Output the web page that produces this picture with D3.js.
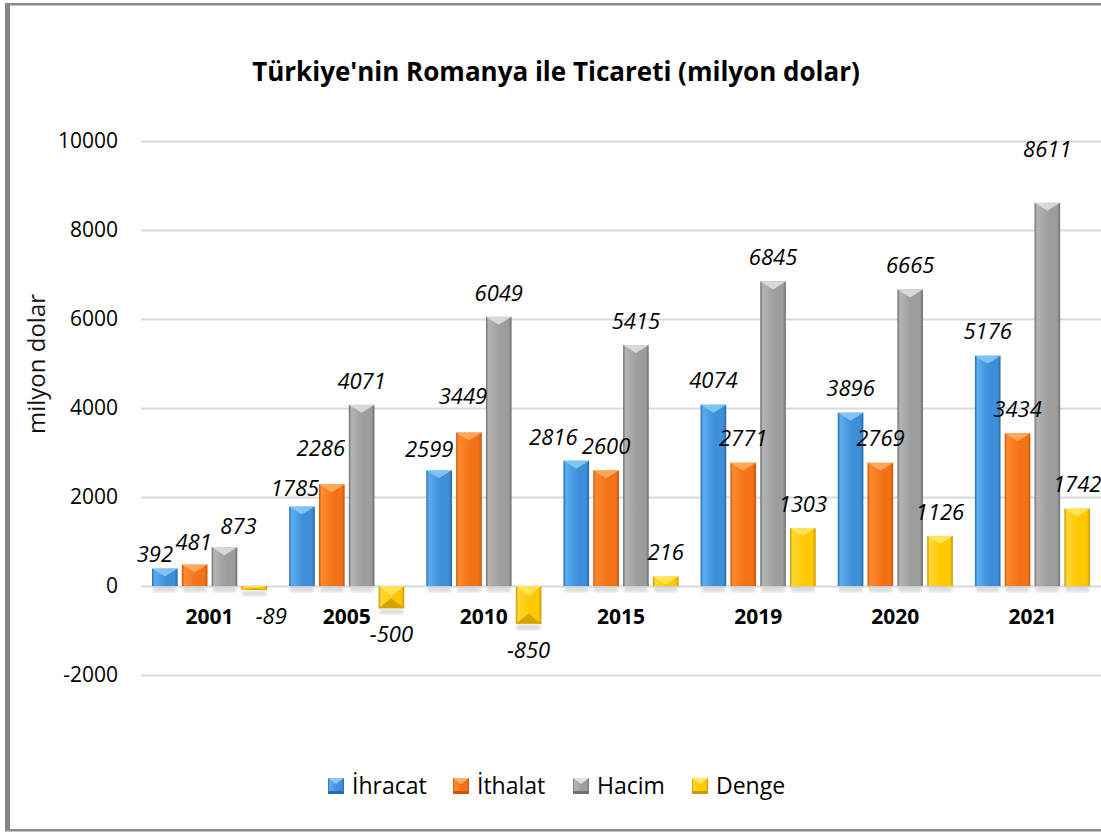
<!DOCTYPE html>
<html>
<head>
<meta charset="utf-8">
<script src="https://cdn.jsdelivr.net/npm/d3@7"></script>
<style>
  body { margin: 0; background: #fff; }
  svg { display: block; font-family: "Open Sans", sans-serif; }
</style>
</head>
<body>
<svg id="chart" width="1101" height="832"></svg>
<script>
// chart data (milyon dolar)
var years = ['2001', '2005', '2010', '2015', '2019', '2020', '2021'];
var ihracat = [392, 1785, 2599, 2816, 4074, 3896, 5176];
var ithalat = [481, 2286, 3449, 2600, 2771, 2769, 3434];
var hacim = [873, 4071, 6049, 5415, 6845, 6665, 8611];
var denge = [-89, -500, -850, 216, 1303, 1126, 1742];
var seriesNames = ['İhracat', 'İthalat', 'Hacim', 'Denge'];
var yTicks = [-2000, 0, 2000, 4000, 6000, 8000, 10000];

// hand-moved data labels, like in the original sheet
var labelNudge = {
  'İhracat|2001': [-10, 10], 'İthalat|2001': [-1, 2], 'Hacim|2001': [14, 3],
  'Denge|2001': [17, 0], 'İhracat|2005': [-7, 6], 'İthalat|2005': [-11, -12],
  'İhracat|2010': [-10, 3], 'İthalat|2010': [-6, -12], 'İhracat|2015': [-23, 1],
  'Hacim|2021': [0, -30]
};

var colors = {
  'İhracat': { light: '#5aaef0', base: '#3d8fd9', dark: '#2a68a8', top: '#8ccaf5' },
  'İthalat': { light: '#ff8a2e', base: '#f47216', dark: '#c5570b', top: '#ffb066' },
  'Hacim':   { light: '#b4b4b4', base: '#9d9d9d', dark: '#6f6f6f', top: '#e2e2e2' },
  'Denge':   { light: '#ffd633', base: '#ffc800', dark: '#c99a00', top: '#ffe866' }
};

var values = { 'İhracat': ihracat, 'İthalat': ithalat, 'Hacim': hacim, 'Denge': denge };

var rows = years.map(function(yr, i) {
  return {
    year: yr,
    bars: seriesNames.map(function(s) { return { key: s, year: yr, value: values[s][i] }; })
  };
});

var svg = d3.select('#chart');
var defs = svg.append('defs');

seriesNames.forEach(function(s, i) {
  var c = colors[s];
  var g = defs.append('linearGradient').attr('id', 'grad' + i)
    .attr('x1', '0%').attr('x2', '100%').attr('y1', '0%').attr('y2', '0%');
  g.append('stop').attr('offset', '0%').attr('stop-color', c.dark);
  g.append('stop').attr('offset', '10%').attr('stop-color', c.light);
  g.append('stop').attr('offset', '55%').attr('stop-color', c.base);
  g.append('stop').attr('offset', '88%').attr('stop-color', c.base);
  g.append('stop').attr('offset', '100%').attr('stop-color', c.dark);
});

defs.append('filter').attr('id', 'blur')
  .append('feGaussianBlur').attr('stdDeviation', 1.6);

// frame
svg.append('rect').attr('x', 5).attr('y', 3).attr('width', 5).attr('height', 828).attr('fill', '#858585');
svg.append('rect').attr('x', 5).attr('y', 3).attr('width', 1096).attr('height', 2.5).attr('fill', '#8a8a8a');
svg.append('rect').attr('x', 5).attr('y', 829).attr('width', 1096).attr('height', 2.5).attr('fill', '#8a8a8a');

var plot = { left: 141, right: 1101, top: 141, bottom: 675 };

var x0 = d3.scaleBand().domain(years).range([plot.left, plot.right]);
var x1 = d3.scaleBand().domain(seriesNames).range([0, x0.bandwidth()])
  .paddingInner(0.14).paddingOuter(0.37);
var y = d3.scaleLinear().domain([-2000, 10000]).range([plot.bottom, plot.top]);

// gridlines
var grid = svg.append('g').attr('transform', 'translate(' + plot.left + ',0)')
  .call(d3.axisLeft(y).tickValues(yTicks).tickSize(-(plot.right - plot.left)).tickFormat(''));
grid.select('.domain').remove();
grid.selectAll('line').attr('stroke', '#d9d9d9').attr('stroke-width', 2);

// y tick labels
var yAxis = svg.append('g').attr('transform', 'translate(' + plot.left + ',0)')
  .call(d3.axisLeft(y).tickValues(yTicks).tickSize(0).tickPadding(23)
    .tickFormat(function(d) { return String(d); }));
yAxis.select('.domain').remove();
yAxis.selectAll('text').attr('font-size', 21).attr('fill', '#000')
  .attr('font-family', '"Open Sans", sans-serif');

// title
svg.append('text').attr('x', 556).attr('y', 72).attr('dy', '0.35em')
  .attr('text-anchor', 'middle').attr('font-size', 26).attr('font-weight', 'bold')
  .attr('fill', '#000').text("Türkiye'nin Romanya ile Ticareti (milyon dolar)");

// y axis title
svg.append('text').attr('transform', 'translate(45,364) rotate(-90)')
  .attr('text-anchor', 'middle').attr('font-size', 24).attr('fill', '#111')
  .text('milyon dolar');

// bars
var groups = svg.append('g').selectAll('g.year').data(rows).enter().append('g')
  .attr('class', 'year')
  .attr('transform', function(d) { return 'translate(' + x0(d.year) + ',0)'; });

var bw = x1.bandwidth();

var bar = groups.selectAll('g.bar').data(function(d) { return d.bars; }).enter().append('g')
  .attr('class', 'bar')
  .attr('transform', function(d) { return 'translate(' + x1(d.key) + ',0)'; });

// shadow at the base line
bar.append('rect')
  .attr('x', 1).attr('width', bw - 2)
  .attr('y', function(d) { return d.value >= 0 ? y(0) + 1 : y(d.value) + 1; })
  .attr('height', 5)
  .attr('fill', '#000').attr('opacity', 0.14).attr('filter', 'url(#blur)');

bar.append('rect')
  .attr('y', function(d) { return Math.min(y(d.value), y(0)); })
  .attr('width', bw)
  .attr('height', function(d) { return Math.abs(y(d.value) - y(0)); })
  .attr('fill', function(d) { return 'url(#grad' + seriesNames.indexOf(d.key) + ')'; });

// bevel on the bar end
bar.append('path')
  .attr('d', function(d) {
    var h = Math.abs(y(d.value) - y(0));
    var b = Math.min(8, h);
    if (d.value >= 0) {
      var t = y(d.value);
      return 'M0,' + t + 'L' + bw + ',' + t + 'L' + (bw / 2) + ',' + (t + b) + 'Z';
    }
    var t0 = y(0);
    return 'M0,' + t0 + 'L' + bw + ',' + t0 + 'L' + (bw / 2) + ',' + (t0 + Math.min(h / 2, 10)) + 'Z';
  })
  .attr('fill', function(d) { return colors[d.key].top; })
  .attr('opacity', 0.85);

bar.filter(function(d) { return d.value < 0; }).append('path')
  .attr('d', function(d) {
    var b = y(d.value);
    var h = Math.abs(y(d.value) - y(0));
    return 'M0,' + b + 'L' + bw + ',' + b + 'L' + (bw / 2) + ',' + (b - Math.min(h / 2, 10)) + 'Z';
  })
  .attr('fill', function(d) { return colors[d.key].dark; })
  .attr('opacity', 0.8);

// data labels, in their own layer so bars never cover them
var allBars = [];
rows.forEach(function(r) { r.bars.forEach(function(b) { allBars.push(b); }); });

svg.append('g').selectAll('text').data(allBars).enter().append('text')
  .attr('x', function(d) {
    var n = labelNudge[d.key + '|' + d.year];
    return x0(d.year) + x1(d.key) + bw / 2 + (n ? n[0] : 0);
  })
  .attr('y', function(d) {
    var n = labelNudge[d.key + '|' + d.year];
    var base = d.value >= 0 ? y(d.value) - 24 : y(d.value) + 26;
    return base + (n ? n[1] : 0);
  })
  .attr('dy', '0.35em')
  .attr('text-anchor', 'middle').attr('font-size', 22).attr('font-style', 'italic')
  .attr('fill', '#000')
  .text(function(d) { return d.value; });

// category labels under the zero line
var xAxis = svg.append('g').attr('transform', 'translate(0,' + y(0) + ')')
  .call(d3.axisBottom(x0).tickSize(0));
xAxis.select('.domain').remove();
xAxis.selectAll('text').attr('y', 31).attr('dy', '0.35em')
  .attr('font-size', 21).attr('font-weight', 'bold').attr('fill', '#000')
  .attr('font-family', '"Open Sans", sans-serif');

// legend
var legendX = [328, 453, 573, 692];
var legend = svg.append('g').selectAll('g').data(seriesNames).enter().append('g')
  .attr('transform', function(d, i) { return 'translate(' + legendX[i] + ',778)'; });
legend.append('rect').attr('width', 16).attr('height', 16)
  .attr('fill', function(d, i) { return 'url(#grad' + i + ')'; });
legend.append('path').attr('d', 'M0,0L16,0L8,6Z')
  .attr('fill', function(d) { return colors[d].top; });
legend.append('rect').attr('y', 13).attr('width', 16).attr('height', 3)
  .attr('fill', function(d) { return colors[d].dark; });
legend.append('text').attr('x', 24).attr('y', 8).attr('dy', '0.35em')
  .attr('font-size', 23).attr('fill', '#000')
  .text(function(d) { return d; });
</script>
</body>
</html>
